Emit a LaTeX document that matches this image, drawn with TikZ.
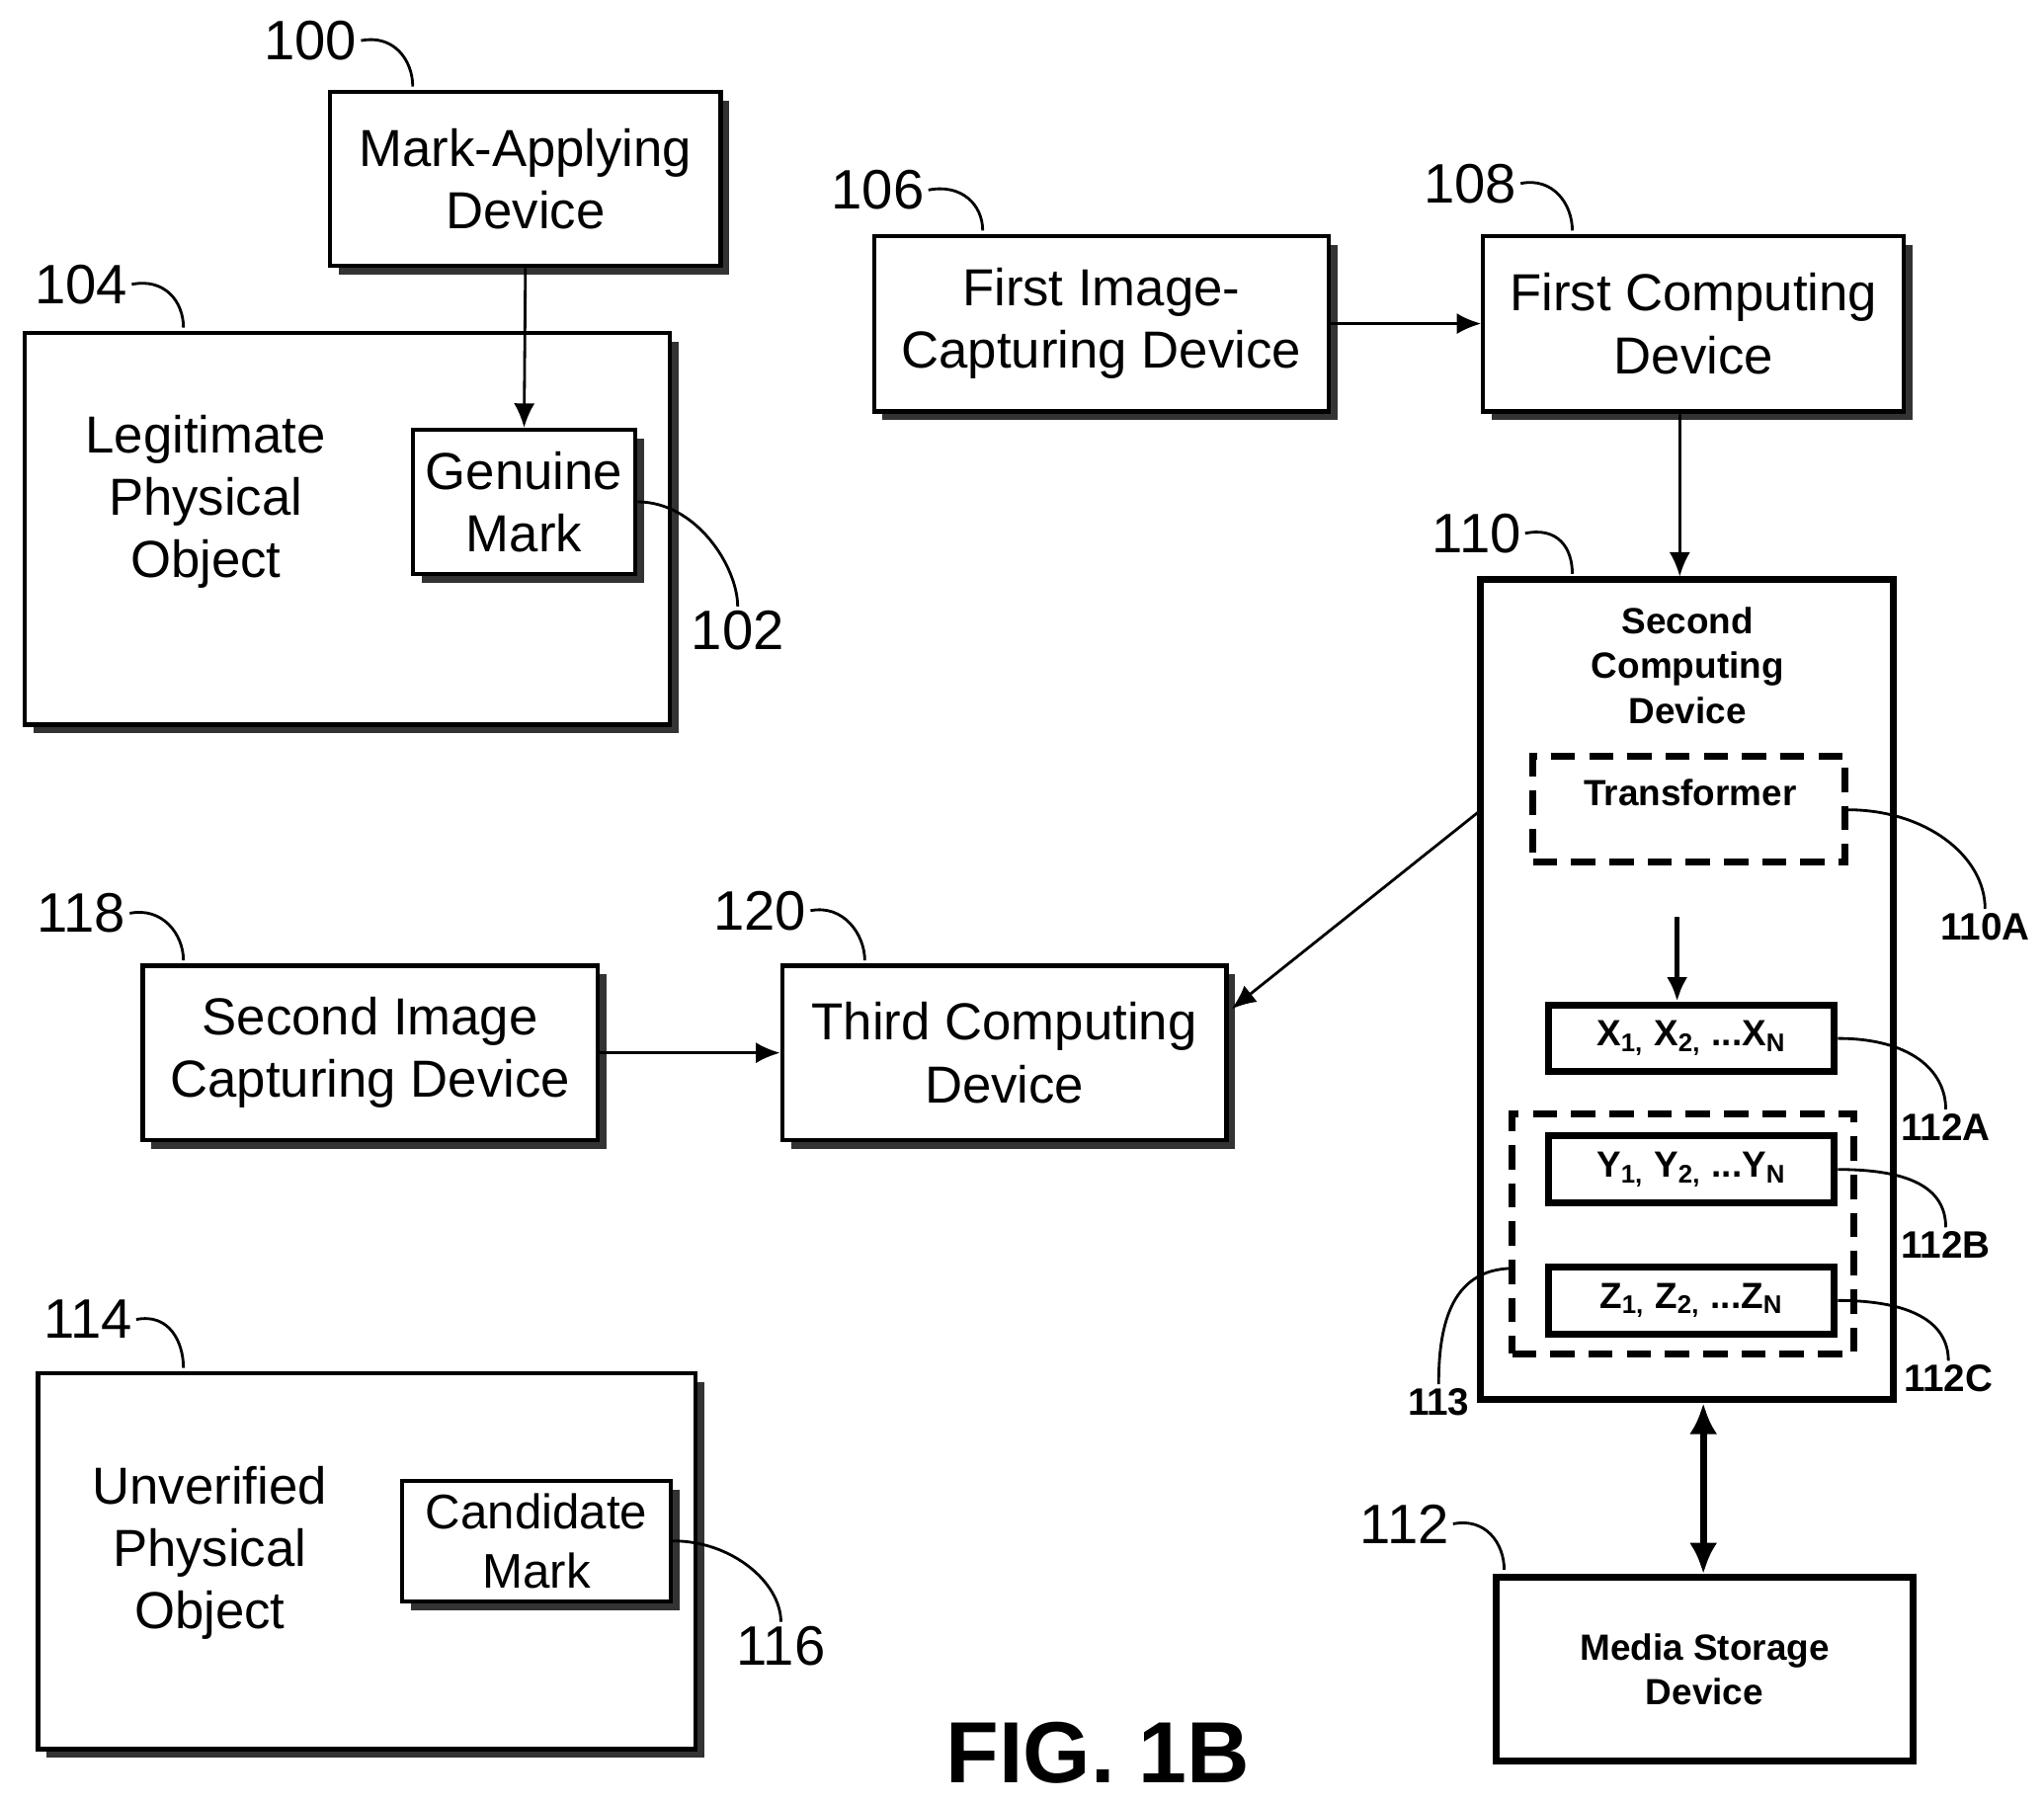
\documentclass[tikz,border=0pt]{standalone}
\usepackage{fontspec}
\setmainfont{Liberation Sans}
\usetikzlibrary{arrows.meta,positioning,fit,shadows}

\tikzset{
  box/.style={draw, line width=1.2pt, fill=white, inner sep=0pt,
    drop shadow={shadow xshift=2.5pt, shadow yshift=-2.5pt, fill=black!80, opacity=1}},
  boxtext/.style={align=center, inner sep=0pt, font=\fontsize{15}{18}\selectfont},
  plainbox/.style={draw, line width=2pt, inner sep=0pt},
  bt/.style={align=center, inner sep=0pt, font=\fontsize{10.5}{13}\selectfont\bfseries},
  dashbox/.style={draw, line width=2pt, dash pattern=on 7pt off 4pt, inner sep=0pt},
  ref/.style={font=\fontsize{16}{19}\selectfont, inner sep=1pt},
  bref/.style={font=\fontsize{11}{13}\selectfont\bfseries, inner sep=1pt},
  lead/.style={line width=0.8pt},
  arr/.style={-{Latex[length=7pt,width=6pt]}, line width=0.8pt}
}

\begin{document}
\begin{tikzpicture}[x=0.01326cm, y=-0.01326cm]
\useasboundingbox (0,0) rectangle (1560,1376);

% upper left group
\node[box, fit={(252,70) (550,203)}] (mad) {};
\node[boxtext] (madtext) at (mad.center) {Mark-Applying\\Device};
\node[box, fit={(19,254) (511,553)}] (lpo) {};
\node[boxtext] (lpotext) at (157,383) {Legitimate\\Physical\\Object};
\node[box, fit={(315,328) (485,438)}, drop shadow={opacity=0}] (gm) {};
\node[boxtext] (gmtext) at (gm.center) {Genuine\\Mark};
\draw[arr] (mad.south) -- (gm.north);

\node[ref] (l100) at (237,31) {100};
\draw[lead] (l100.east) .. controls +(25,-5) and +(0,-20) .. (315,66);
\node[ref] (l104) at (62,217) {104};
\draw[lead] (l104.east) .. controls +(25,-5) and +(0,-20) .. (140,250);
\node[ref] (l102) at (563,481) {102};
\draw[lead] (gm.east) .. controls +(45,0) and +(0,-30) .. (l102.north);

% first capture chain
\node[box, fit={(667,180) (1014,314)}] (fic) {};
\node[boxtext] (fictext) at (fic.center) {First Image-\\Capturing Device};
\node[box, fit={(1132,180) (1453,314)}] (fcd) {};
\node[boxtext] (fcdtext) at (fcd.center) {First Computing\\Device};
\draw[arr] (fic.east) -- (fcd.west);
\node[ref] (l106) at (670,145) {106};
\draw[lead] (l106.east) .. controls +(25,-5) and +(0,-20) .. (750,176);
\node[ref] (l108) at (1122,140) {108};
\draw[lead] (l108.east) .. controls +(25,-5) and +(0,-20) .. (1200,176);

% second computing device
\node[plainbox, fit={(1130,442) (1445,1068)}] (scd) {};
\node[bt] (scdtext) at (1288,508) {Second\\Computing\\Device};
\draw[arr] (fcd.south -| 1282,0) -- (1282,440);
\node[ref] (l110) at (1127,407) {110};
\draw[lead] (l110.east) .. controls +(25,-5) and +(0,-20) .. (1200,438);

\node[dashbox, fit={(1170,577) (1408,658)}] (tr) {};
\node[bt] (trtext) at (1290,605) {Transformer};
\node[bref] (l110a) at (1515,707) {110A};
\draw[lead] (1410,618) .. controls +(60,0) and +(0,-40) .. (l110a.north);

\coordinate (trout) at (1280,700);
\node[plainbox, fit={(1182,767) (1400,818)}] (xs) {};
\node[bt] (xstext) at (xs.center) {X\textsubscript{1,} X\textsubscript{2,} ...X\textsubscript{N}};
\draw[arr, line width=1.5pt] (trout) -- (xs.north -| trout);
\node[dashbox, fit={(1154,850) (1415,1033)}] (grp) {};
\node[plainbox, fit={(1182,867) (1400,918)}] (ys) {};
\node[bt] (ystext) at (ys.center) {Y\textsubscript{1,} Y\textsubscript{2,} ...Y\textsubscript{N}};
\node[plainbox, fit={(1182,967) (1400,1018)}] (zs) {};
\node[bt] (zstext) at (zs.center) {Z\textsubscript{1,} Z\textsubscript{2,} ...Z\textsubscript{N}};

\node[bref] (l112a) at (1485,860) {112A};
\draw[lead] (xs.east) .. controls +(55,0) and +(0,-30) .. (l112a.north);
\node[bref] (l112b) at (1485,950) {112B};
\draw[lead] (ys.east) .. controls +(55,0) and +(0,-30) .. (l112b.north);
\node[bref] (l112c) at (1487,1052) {112C};
\draw[lead] (zs.east) .. controls +(55,0) and +(0,-30) .. (l112c.north);
\node[bref] (l113) at (1098,1070) {113};
\draw[lead] (1155,968) .. controls +(-50,0) and +(0,-40) .. (l113.north);

% media storage
\node[plainbox, fit={(1142,1204) (1460,1344)}] (msd) {};
\node[bt] (msdtext) at (msd.center) {Media Storage\\Device};
\draw[{Latex[length=9pt,width=8pt]}-{Latex[length=9pt,width=8pt]}, line width=2pt] (scd.south -| 1300,0) -- (msd.north -| 1300,0);
\node[ref] (l112) at (1072,1163) {112};
\draw[lead] (l112.east) .. controls +(25,-5) and +(0,-20) .. (1148,1198);

% second capture chain
\node[box, fit={(109,737) (456,870)}] (sic) {};
\node[boxtext] (sictext) at (sic.center) {Second Image\\Capturing Device};
\node[box, fit={(597,737) (936,870)}] (tcd) {};
\node[boxtext] (tcdtext) at (tcd.center) {Third Computing\\Device};
\draw[arr] (sic.east) -- (tcd.west);
\draw[arr] (1128,620) -- (940,770);
\node[ref] (l118) at (62,697) {118};
\draw[lead] (l118.east) .. controls +(25,-5) and +(0,-20) .. (140,733);
\node[ref] (l120) at (580,695) {120};
\draw[lead] (l120.east) .. controls +(25,-5) and +(0,-20) .. (660,733);

% unverified object
\node[box, fit={(29,1048) (531,1335)}] (upo) {};
\node[boxtext] (upotext) at (160,1185) {Unverified\\Physical\\Object};
\node[box, fit={(307,1130) (512,1222)}, drop shadow={opacity=0}] (cm) {};
\node[boxtext, font=\fontsize{14}{17}\selectfont] (cmtext) at (cm.center) {Candidate\\Mark};
\node[ref] (l114) at (67,1007) {114};
\draw[lead] (l114.east) .. controls +(25,-5) and +(0,-20) .. (140,1044);
\node[ref] (l116) at (596,1256) {116};
\draw[lead] (cm.east) .. controls +(45,0) and +(0,-30) .. (l116.north);

\node[font=\fontsize{25}{28}\selectfont\bfseries] (fig) at (838,1338) {FIG. 1B};
\end{tikzpicture}
\end{document}
